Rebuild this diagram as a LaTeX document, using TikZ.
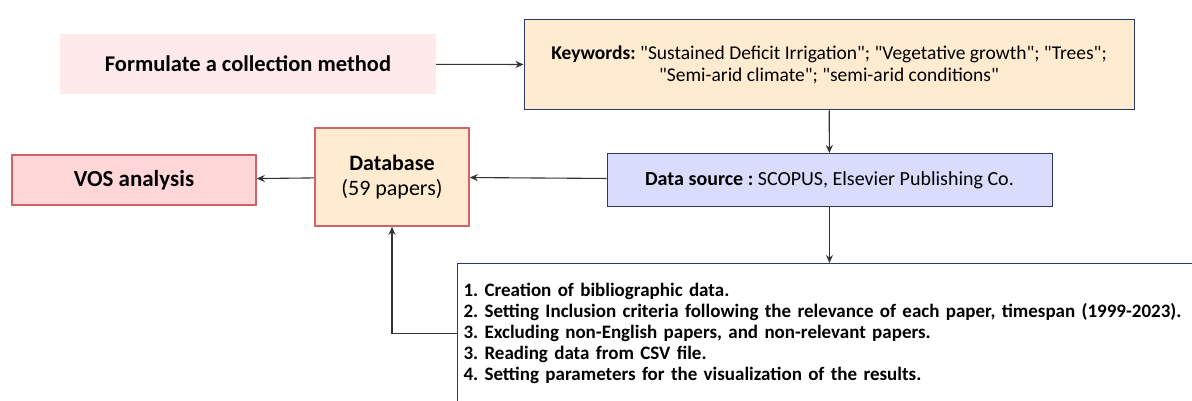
\documentclass[tikz,border=0pt]{standalone}
\usepackage{fontspec}
\setmainfont{Carlito}[Ligatures=TeXOff]
\usetikzlibrary{arrows.meta}
\frenchspacing
\newcommand{\dq}{\symbol{34}}
\definecolor{pinkfill}{HTML}{FFEAEB}
\definecolor{peach}{HTML}{FFEBCF}
\definecolor{redfill}{HTML}{FFD7D9}
\definecolor{redline}{HTML}{D0636A}
\definecolor{bluefill}{HTML}{D9DDFB}
\definecolor{navy}{HTML}{2E3866}
\tikzset{
  box/.style={draw=navy, line width=1pt, inner sep=0pt, align=center},
  redbox/.style={draw=redline, line width=1.6pt, inner sep=0pt, align=center},
  flow/.style={-{Stealth[length=8pt,width=7pt]}, line width=1.1pt, draw=black!80}
}
\begin{document}
\begin{tikzpicture}[x=1pt,y=-1pt]
   \clip (0,0) rectangle (1192,401);

   \node[fill=pinkfill, minimum width=376pt, minimum height=60pt,
         font=\fontsize{22.5}{26}\selectfont\bfseries] (formulate) at (248,64)
         {Formulate a collection method};
   \node[box, fill=peach, minimum width=610pt, minimum height=90pt,
         font=\fontsize{19.5}{21.5}\selectfont] (keywords) at (829,65)
         {\textbf{Keywords:} \dq Sustained Deficit Irrigation\dq; \dq Vegetative growth\dq; \dq Trees\dq;\\
          \dq Semi-arid climate\dq; \dq semi-arid conditions\dq};
   \node[box, fill=bluefill, minimum width=445pt, minimum height=53pt,
         font=\fontsize{20}{22}\selectfont] (source) at (829.5,180)
         {\textbf{Data source :} SCOPUS, Elsevier Publishing Co.};
   \node[redbox, fill=peach, minimum width=154pt, minimum height=98pt,
         font=\fontsize{22}{25}\selectfont] (database) at (392,177)
         {\textbf{Database}\\(59 papers)};
   \node[redbox, fill=redfill, minimum width=244pt, minimum height=50pt,
         font=\fontsize{23}{26}\selectfont\bfseries] (vos) at (134,180)
         {VOS analysis};
   \node[box, fill=white, anchor=north west, text width=760pt,
         minimum height=140pt, inner xsep=6pt, align=left,
         font=\fontsize{19}{21}\selectfont\bfseries] (steps) at (457,263)
         {1. Creation of bibliographic data.\\
          2. Setting Inclusion criteria following the relevance of each paper, timespan (1999-2023).\\
          3. Excluding non-English papers, and non-relevant papers.\\
          3. Reading data from CSV file.\\
          4. Setting parameters for the visualization of the results.};

   \draw[flow] (formulate) -- (keywords);
   \draw[flow] (keywords) -- (source);
   \draw[flow] (source) -- (database);
   \draw[flow] (database) -- (vos);
   \draw[flow] (source.south) -- (source.south |- steps.north);
   \draw[flow] (steps.west) -| (database.south);
\end{tikzpicture}
\end{document}
